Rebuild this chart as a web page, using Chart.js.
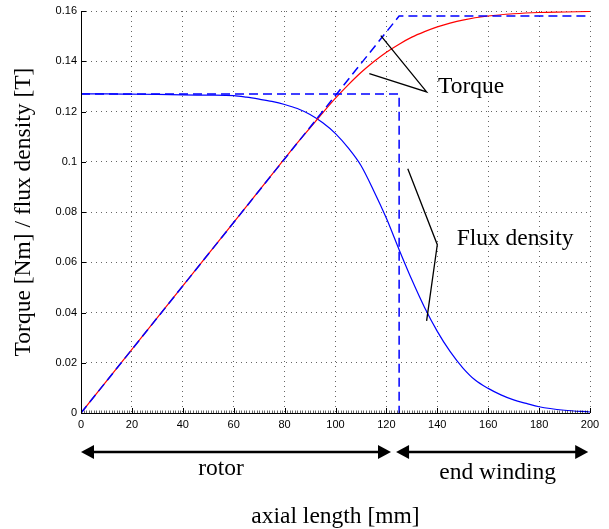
<!DOCTYPE html>
<html><head><meta charset="utf-8">
<script src="https://cdn.jsdelivr.net/npm/chart.js@4"></script>
<style>html,body{margin:0;padding:0;background:#fff}</style>
</head><body>
<canvas id="c" width="609" height="529"></canvas>
<script>
// ---- data ----
const torqueX = [0, 20, 40, 60, 80, 85, 90, 95, 100, 105, 110, 115, 120, 125, 130, 135, 140, 145, 150, 160, 170, 180, 190, 200];
const torqueY = [0, 0.0253, 0.0506, 0.0759, 0.1012, 0.1075, 0.1135, 0.1195, 0.1253, 0.1306, 0.1355, 0.1398, 0.1436, 0.1468, 0.1496, 0.1518, 0.1537, 0.1552, 0.1564, 0.1580, 0.1589, 0.1594, 0.1596, 0.1598];
const fluxX = [0, 10, 20, 30, 40, 50, 60, 65, 70, 75, 80, 85, 90, 95, 100, 105, 110, 115, 120, 125, 130, 135, 140, 145, 150, 155, 160, 165, 170, 175, 180, 190, 200];
const fluxY = [0.127, 0.127, 0.1269, 0.1268, 0.1266, 0.1265, 0.1263, 0.1257, 0.1249, 0.124, 0.1228, 0.1212, 0.1188, 0.1155, 0.1112, 0.1055, 0.0985, 0.0885, 0.0775, 0.065, 0.053, 0.042, 0.0325, 0.0245, 0.018, 0.013, 0.0098, 0.0072, 0.0052, 0.0038, 0.0025, 0.0011, 0.0004];
const idealTorqueX = [0, 125, 200];
const idealTorqueY = [0, 0.158, 0.158];
const idealFluxX = [0, 125, 125];
const idealFluxY = [0.127, 0.127, 0];
const xTicks = [0, 20, 40, 60, 80, 100, 120, 140, 160, 180, 200];
const yTicks = [0, 0.02, 0.04, 0.06, 0.08, 0.1, 0.12, 0.14, 0.16];
const regionLabels = ['rotor', 'end winding'];
const regionFrom = [0, 123.8];
const regionTo = [121.8, 199.3];

// ---- annotation placement (data units) ----
const torqueCallout = [[117.8, 0.1502], [135.8, 0.1278], [113.3, 0.1351]];
const fluxCallout = [[128.4, 0.0972], [140.0, 0.0670], [135.8, 0.0367]];
const torqueText = {text: 'Torque', x: 140.3, y: 0.1274};
const fluxText = {text: 'Flux density', x: 147.6, y: 0.0670};

const pts = (xs, ys) => xs.map((x, i) => ({x, y: ys[i]}));
const SERIF = '"Liberation Serif", "Times New Roman", serif';
const SANS = '"Liberation Sans", Arial, sans-serif';

const decor = {
  id: 'decor',
  afterDraw(chart) {
    const {ctx, chartArea: a, scales: {x, y}} = chart;
    ctx.save();
    // axis lines
    ctx.strokeStyle = '#000'; ctx.lineWidth = 1; ctx.setLineDash([]);
    ctx.beginPath();
    ctx.moveTo(a.left + 0.5, a.top); ctx.lineTo(a.left + 0.5, a.bottom + 0.5);
    ctx.lineTo(a.right, a.bottom + 0.5);
    ctx.stroke();
    // minor x ticks
    ctx.lineWidth = 0.6;
    ctx.beginPath();
    for (let v = 0; v <= 200; v += 1) {
      const px = Math.round(x.getPixelForValue(v)) + 0.5;
      ctx.moveTo(px, a.bottom); ctx.lineTo(px, a.bottom - 2.5);
    }
    ctx.stroke();
    // major ticks (inward)
    ctx.lineWidth = 1;
    ctx.beginPath();
    xTicks.forEach(v => {
      const px = Math.round(x.getPixelForValue(v)) + 0.5;
      ctx.moveTo(px, a.bottom); ctx.lineTo(px, a.bottom - 5);
    });
    yTicks.forEach(v => {
      const py = Math.round(y.getPixelForValue(v)) + 0.5;
      ctx.moveTo(a.left, py); ctx.lineTo(a.left + 5, py);
    });
    ctx.stroke();
    // callouts
    ctx.lineWidth = 1.3; ctx.strokeStyle = '#000';
    [torqueCallout, fluxCallout].forEach(line => {
      ctx.beginPath();
      line.forEach(([vx, vy], i) => {
        const px = x.getPixelForValue(vx), py = y.getPixelForValue(vy);
        if (i === 0) ctx.moveTo(px, py); else ctx.lineTo(px, py);
      });
      ctx.stroke();
    });
    ctx.fillStyle = '#000';
    ctx.font = '23.5px ' + SERIF;
    ctx.textAlign = 'left'; ctx.textBaseline = 'alphabetic';
    [torqueText, fluxText].forEach(t => {
      ctx.fillText(t.text, x.getPixelForValue(t.x), y.getPixelForValue(t.y));
    });
    // region arrows below axis
    const ay = a.bottom + 39;
    regionLabels.forEach((lab, i) => {
      const x1 = x.getPixelForValue(regionFrom[i]);
      const x2 = x.getPixelForValue(regionTo[i]);
      const hl = 13, hh = 7;
      ctx.lineWidth = 2.5;
      ctx.beginPath(); ctx.moveTo(x1 + hl - 1, ay); ctx.lineTo(x2 - hl + 1, ay); ctx.stroke();
      ctx.beginPath(); ctx.moveTo(x1, ay); ctx.lineTo(x1 + hl, ay - hh); ctx.lineTo(x1 + hl, ay + hh); ctx.closePath(); ctx.fill();
      ctx.beginPath(); ctx.moveTo(x2, ay); ctx.lineTo(x2 - hl, ay - hh); ctx.lineTo(x2 - hl, ay + hh); ctx.closePath(); ctx.fill();
    });
    ctx.textAlign = 'center';
    ctx.font = '23.5px ' + SERIF;
    ctx.fillText(regionLabels[0], x.getPixelForValue(55), a.bottom + 62);
    ctx.fillText(regionLabels[1], x.getPixelForValue(163.7), a.bottom + 66);
    ctx.restore();
  }
};

new Chart(document.getElementById('c'), {
  type: 'line',
  data: {
    datasets: [
      {data: pts(idealTorqueX, idealTorqueY), borderColor: '#0000ff', borderWidth: 1.5, borderDash: [9, 5], pointRadius: 0, tension: 0, fill: false},
      {data: pts(idealFluxX, idealFluxY), borderColor: '#0000ff', borderWidth: 1.5, borderDash: [9, 5], pointRadius: 0, tension: 0, fill: false},
      {data: pts(torqueX, torqueY), borderColor: '#ff0000', borderWidth: 1.2, pointRadius: 0, cubicInterpolationMode: 'monotone', fill: false},
      {data: pts(fluxX, fluxY), borderColor: '#0000ff', borderWidth: 1.2, pointRadius: 0, cubicInterpolationMode: 'monotone', fill: false}
    ]
  },
  options: {
    responsive: false, animation: false, devicePixelRatio: 1,
    layout: {padding: {left: 0, right: 19, top: 11, bottom: 0}},
    plugins: {legend: {display: false}, tooltip: {enabled: false}},
    scales: {
      x: {
        type: 'linear', min: 0, max: 200,
        afterBuildTicks: s => { s.ticks = xTicks.map(v => ({value: v})); },
        ticks: {padding: 5, color: '#000', font: {family: SANS, size: 11}, maxRotation: 0, autoSkip: false},
        grid: {color: 'rgba(0,0,0,0.6)', lineWidth: 1, drawTicks: false},
        border: {display: false, dash: [1, 4]},
        title: {display: true, text: 'axial length [mm]', color: '#000', font: {family: SERIF, size: 23.5}, padding: {top: 0, bottom: -2}},
        afterFit: s => { s.height = 116; }
      },
      y: {
        type: 'linear', min: 0, max: 0.16,
        afterBuildTicks: s => { s.ticks = yTicks.map(v => ({value: v})); },
        ticks: {padding: 4, color: '#000', font: {family: SANS, size: 11}, callback: v => String(+(+v).toFixed(4))},
        grid: {color: 'rgba(0,0,0,0.6)', lineWidth: 1, drawTicks: false},
        border: {display: false, dash: [1, 4]},
        title: {display: true, text: 'Torque [Nm] / flux density [T]', color: '#000', font: {family: SERIF, size: 23.5}, padding: {top: 10, bottom: 0}},
        afterFit: s => { s.width = 81; }
      }
    }
  },
  plugins: [decor]
});
</script>
</body></html>
